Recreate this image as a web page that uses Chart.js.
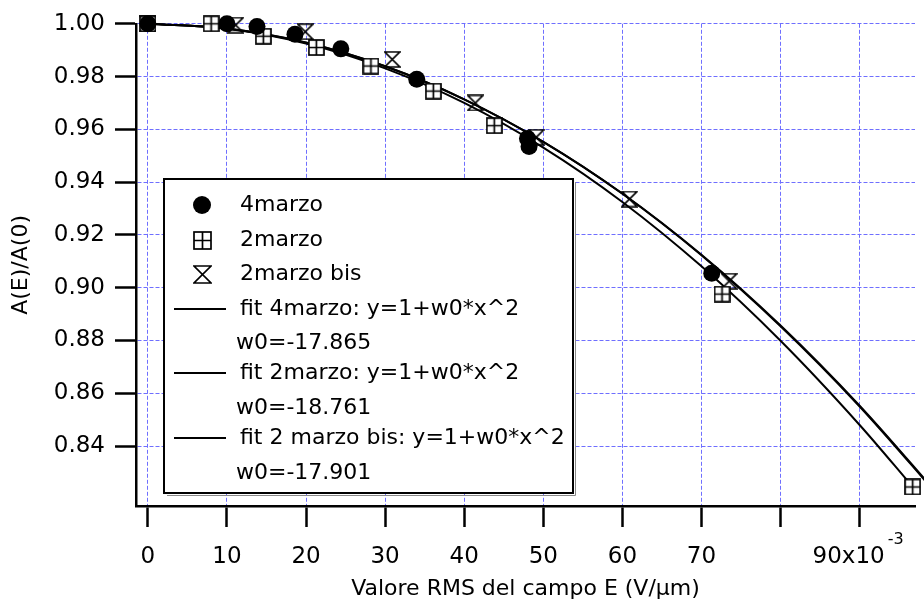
<!DOCTYPE html>
<html>
<head>
<meta charset="utf-8">
<script src="https://cdn.jsdelivr.net/npm/chart.js@4/dist/chart.umd.min.js"></script>
<style>
  html, body { margin: 0; padding: 0; background: #fff; }
  canvas { display: block; }
</style>
</head>
<body>
<canvas id="grafico" width="924" height="603"></canvas>
<script>
// dati (x in unita' di 10^-3 V/um)
const x4marzo = [0, 10, 13.8, 18.6, 24.4, 34, 48.0, 48.2, 71.3];
const y4marzo = [1.000, 1.000, 0.999, 0.996, 0.9905, 0.979, 0.9565, 0.9535, 0.9055];

const x2marzo = [0, 8.0, 14.6, 21.3, 28.2, 36.1, 43.8, 72.6, 96.7];
const y2marzo = [1.000, 1.000, 0.9953, 0.991, 0.984, 0.9745, 0.9614, 0.8976, 0.8245];

const x2marzoBis = [0, 11.1, 19.9, 30.9, 41.4, 49.1, 60.9, 73.5];
const y2marzoBis = [1.000, 0.9995, 0.997, 0.9865, 0.970, 0.957, 0.9336, 0.9025];

// curve di fit
const xFit = [0, 10, 20, 30, 40, 50, 60, 70, 80, 90, 100];
const yFit4marzo = [1, 0.9982, 0.9929, 0.9839, 0.9714, 0.9553, 0.9357, 0.9125, 0.8857, 0.8553, 0.8214];
const xFit2marzo = [0, 10, 20, 30, 40, 50, 60, 70, 80, 90, 96.7];
const yFit2marzo = [1, 0.9981, 0.9925, 0.9831, 0.9700, 0.9531, 0.9325, 0.9081, 0.8799, 0.8480, 0.8246];
const yFitBis = [1, 0.9982, 0.9928, 0.9839, 0.9714, 0.9553, 0.9356, 0.9123, 0.8854, 0.8550, 0.8210];

const xTicks = [0, 10, 20, 30, 40, 50, 60, 70, 80, 90];
const yTicks = [0.84, 0.86, 0.88, 0.90, 0.92, 0.94, 0.96, 0.98, 1.00];

const voci = ['4marzo', '2marzo', '2marzo bis',
  'fit 4marzo: y=1+w0*x^2', 'w0=-17.865',
  'fit 2marzo: y=1+w0*x^2', 'w0=-18.761',
  'fit 2 marzo bis: y=1+w0*x^2', 'w0=-17.901'];
const simboli = ['cerchio', 'quadrato', 'clessidra', 'linea', null, 'linea', null, 'linea', null];

const FONT = "'DejaVu Sans'";

function punti(xs, ys) {
  return xs.map((x, i) => ({x: x, y: ys[i]}));
}

// marker disegnati a mano
function quadrato(size) {
  const c = document.createElement('canvas');
  c.width = size; c.height = size;
  const g = c.getContext('2d');
  g.lineWidth = 1.7;
  g.strokeStyle = '#000';
  g.fillStyle = '#fff';
  g.fillRect(1, 1, size - 2, size - 2);
  g.strokeRect(1, 1, size - 2, size - 2);
  g.beginPath();
  g.moveTo(size / 2, 1); g.lineTo(size / 2, size - 1);
  g.moveTo(1, size / 2); g.lineTo(size - 1, size / 2);
  g.stroke();
  return c;
}
function clessidra(size) {
  const c = document.createElement('canvas');
  c.width = size; c.height = size;
  const g = c.getContext('2d');
  g.lineWidth = 1.7;
  g.strokeStyle = '#000';
  g.beginPath();
  g.moveTo(1, 1); g.lineTo(size - 1, 1);
  g.lineTo(1, size - 1); g.lineTo(size - 1, size - 1);
  g.closePath();
  g.stroke();
  return c;
}
const imgQuadrato = quadrato(17);
const imgClessidra = clessidra(17);

const legenda = {
  id: 'legenda',
  afterDraw(chart) {
    const ctx = chart.ctx;
    ctx.save();
    ctx.fillStyle = '#fff';
    ctx.fillRect(164, 179, 409, 314);
    ctx.strokeStyle = '#888';
    ctx.lineWidth = 1;
    ctx.beginPath();
    ctx.moveTo(167, 495.5); ctx.lineTo(575.5, 495.5); ctx.lineTo(575.5, 182);
    ctx.stroke();
    ctx.strokeStyle = '#000';
    ctx.lineWidth = 2;
    ctx.strokeRect(164, 179, 409, 314);

    const righe = [205, 240, 274, 309, 343, 373, 408, 438, 473];
    ctx.font = '22px ' + FONT;
    ctx.textBaseline = 'middle';
    ctx.fillStyle = '#000';
    voci.forEach((t, i) => {
      const y = righe[i];
      const s = simboli[i];
      if (s === 'cerchio') {
        ctx.beginPath(); ctx.arc(202, y, 9, 0, Math.PI * 2); ctx.fill();
      } else if (s === 'quadrato') {
        ctx.drawImage(quadrato(19), 193, y - 9);
      } else if (s === 'clessidra') {
        ctx.drawImage(clessidra(19), 193, y - 9);
      } else if (s === 'linea') {
        ctx.lineWidth = 1.8;
        ctx.beginPath(); ctx.moveTo(174, y); ctx.lineTo(226, y); ctx.stroke();
      }
      ctx.fillText(t, s ? 240 : 236, y);
    });

    // esponente dell'asse x
    const sx = chart.scales.x;
    ctx.font = '23px ' + FONT;
    const wTot = ctx.measureText('90x10   ').width;
    const w90 = ctx.measureText('90x10').width;
    const x0 = sx.getPixelForValue(90) - wTot / 2;
    ctx.font = '16px ' + FONT;
    ctx.textBaseline = 'middle';
    ctx.fillText('-3', x0 + w90 + 3, 540);
    ctx.restore();
  }
};

const grigliaBlu = '#6f6fff';

new Chart(document.getElementById('grafico'), {
  type: 'scatter',
  data: {
    datasets: [
      {label: '4marzo', data: punti(x4marzo, y4marzo), pointStyle: 'circle', pointRadius: 8.5,
        backgroundColor: '#000', borderColor: '#000', borderWidth: 0, clip: false, order: 0},
      {label: '2marzo', data: punti(x2marzo, y2marzo), pointStyle: imgQuadrato, pointRadius: 8,
        clip: false, order: 0},
      {label: '2marzo bis', data: punti(x2marzoBis, y2marzoBis), pointStyle: imgClessidra, pointRadius: 8,
        clip: false, order: 0},
      {label: 'fit 4marzo', data: punti(xFit, yFit4marzo), showLine: true, pointRadius: 0,
        cubicInterpolationMode: 'monotone',
        borderColor: '#000', borderWidth: 2, clip: false, order: 1},
      {label: 'fit 2marzo', data: punti(xFit2marzo, yFit2marzo), showLine: true, pointRadius: 0,
        cubicInterpolationMode: 'monotone',
        borderColor: '#000', borderWidth: 2, clip: false, order: 1},
      {label: 'fit 2 marzo bis', data: punti(xFit, yFitBis), showLine: true, pointRadius: 0,
        cubicInterpolationMode: 'monotone',
        borderColor: '#000', borderWidth: 2, clip: false, order: 1}
    ]
  },
  options: {
    responsive: false,
    animation: false,
    events: [],
    layout: {padding: {top: 19, right: 0, bottom: 0, left: 0}},
    plugins: {legend: {display: false}, tooltip: {enabled: false}},
    scales: {
      x: {
        type: 'linear', position: 'bottom', min: -1.5, max: 97,
        afterFit: s => { s.height = 97; },
        afterBuildTicks: s => { s.ticks = xTicks.map(v => ({value: v})); },
        grid: {color: grigliaBlu, lineWidth: 1, tickColor: '#000', tickWidth: 2.5, tickLength: 21},
        border: {color: '#000', width: 2.5, dash: [4, 2]},
        ticks: {
          autoSkip: false, maxRotation: 0, padding: 16, color: '#000',
          font: {family: FONT, size: 23},
          callback: v => v === 80 ? '' : (v === 90 ? '90x10   ' : String(v))
        },
        title: {display: true, text: 'Valore RMS del campo E (V/\u00b5m)', color: '#000',
          font: {family: FONT, size: 22}, padding: {top: 0, bottom: 1}}
      },
      y: {
        type: 'linear', min: 0.8173, max: 1.0,
        afterFit: s => { s.width = 136; },
        afterBuildTicks: s => { s.ticks = yTicks.map(v => ({value: v})); },
        grid: {color: grigliaBlu, lineWidth: 1, tickColor: '#000', tickWidth: 2.5, tickLength: 21},
        border: {color: '#000', width: 2.5, dash: [4, 2]},
        ticks: {
          padding: 10, color: '#000', font: {family: FONT, size: 23},
          callback: v => v.toFixed(2)
        },
        title: {display: true, text: 'A(E)/A(0)', color: '#000',
          font: {family: FONT, size: 22}, padding: {top: 8, bottom: 0}}
      }
    }
  },
  plugins: [legenda]
});
</script>
</body>
</html>
